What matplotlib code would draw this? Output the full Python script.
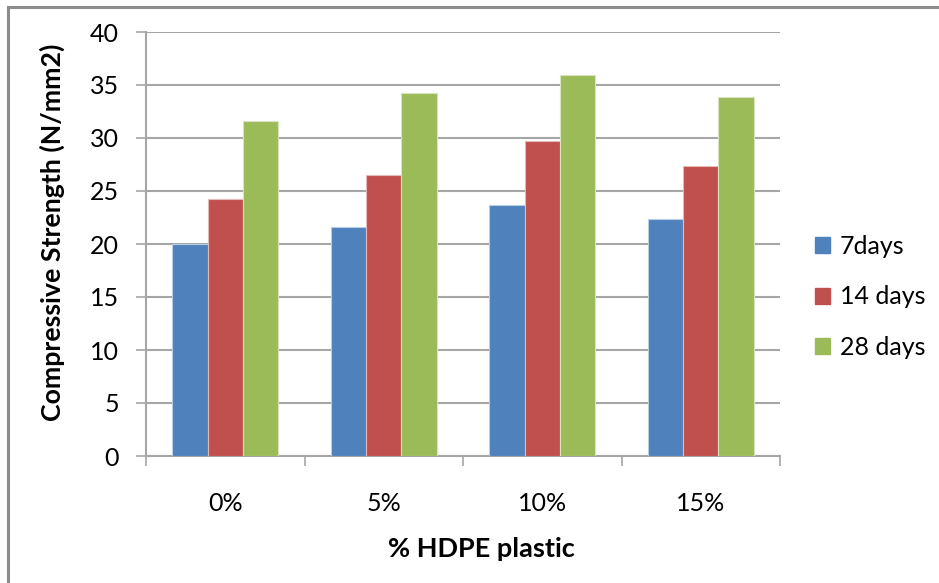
import matplotlib
matplotlib.use("Agg")
import matplotlib.pyplot as plt
from matplotlib.lines import Line2D
import numpy as np

categories = ["0%", "5%", "10%", "15%"]
series_names = ["7days", "14 days", "28 days"]
days7 = [20.0, 21.6, 23.7, 22.4]
days14 = [24.2, 26.5, 29.7, 27.4]
days28 = [31.6, 34.2, 35.9, 33.9]
y_ticks = [0, 5, 10, 15, 20, 25, 30, 35, 40]

colors = ["#4F81BD", "#C0504D", "#9BBB59"]
edge_colors = ["#B9CDE5", "#E6B9B8", "#D7E4BD"]
grid_color = "#A6A6A6"

plt.rcParams["font.family"] = ["Lato", "DejaVu Sans"]

W, H = 939, 583
fig = plt.figure(figsize=(W / 100, H / 100), dpi=100)
ax = fig.add_axes([146 / W, (H - 456) / H, (780 - 146) / W, (456 - 32) / H])

x = np.arange(len(categories))
bw = (1 / 1.5) / 3
for i, (vals, name) in enumerate(zip([days7, days14, days28], series_names)):
    ax.bar(x + (i - 1) * bw, vals, width=bw, color=colors[i],
           edgecolor=edge_colors[i], linewidth=0.8, label=name, zorder=3)

ax.set_xlim(-0.5, len(categories) - 0.5)
ax.set_ylim(0, 40)
ax.set_yticks(y_ticks)
ax.yaxis.grid(True, color=grid_color, linewidth=1.5, zorder=0)

# category separators as major ticks, labels on minor ticks
ax.set_xticks(np.arange(-0.5, len(categories), 1.0))
ax.set_xticklabels([])
ax.set_xticks(x, minor=True)
ax.set_xticklabels(categories, minor=True)
ax.tick_params(axis="x", which="major", length=7, width=1.2, color=grid_color)
ax.tick_params(axis="x", which="minor", length=0, pad=26, labelsize=18)
ax.tick_params(axis="y", length=7.5, width=1.2, color=grid_color, pad=12,
               labelsize=18)

for side in ["top", "right"]:
    ax.spines[side].set_visible(False)
for side in ["left", "bottom"]:
    ax.spines[side].set_color(grid_color)
    ax.spines[side].set_linewidth(1.5)

fig.text(52 / W, 1 - 232 / H, "Compressive Strength (N/mm2)", rotation=90,
         ha="center", va="center", fontsize=19.3, fontweight="bold")
fig.text(481 / W, 1 - 549 / H, "% HDPE plastic", ha="center", va="center",
         fontsize=19.5, fontweight="bold")

handles = [plt.Rectangle((0, 0), 1, 1, color=c) for c in colors]
fig.legend(handles, series_names, loc="center left",
           bbox_to_anchor=(792 / W, 1 - 297 / H), frameon=False,
           fontsize=18, handlelength=0.6, handleheight=0.6,
           handletextpad=0.4, labelspacing=1.1)

# outer chart frame
frame_kw = dict(color="#8C8C8C", linewidth=2.2, transform=fig.transFigure)
fig.add_artist(Line2D([8 / W, 1], [1 - 7 / H, 1 - 7 / H], **frame_kw))
fig.add_artist(Line2D([8 / W, 8 / W], [0, 1 - 7 / H], **frame_kw))

fig.savefig("out.png", dpi=100, facecolor="white")
